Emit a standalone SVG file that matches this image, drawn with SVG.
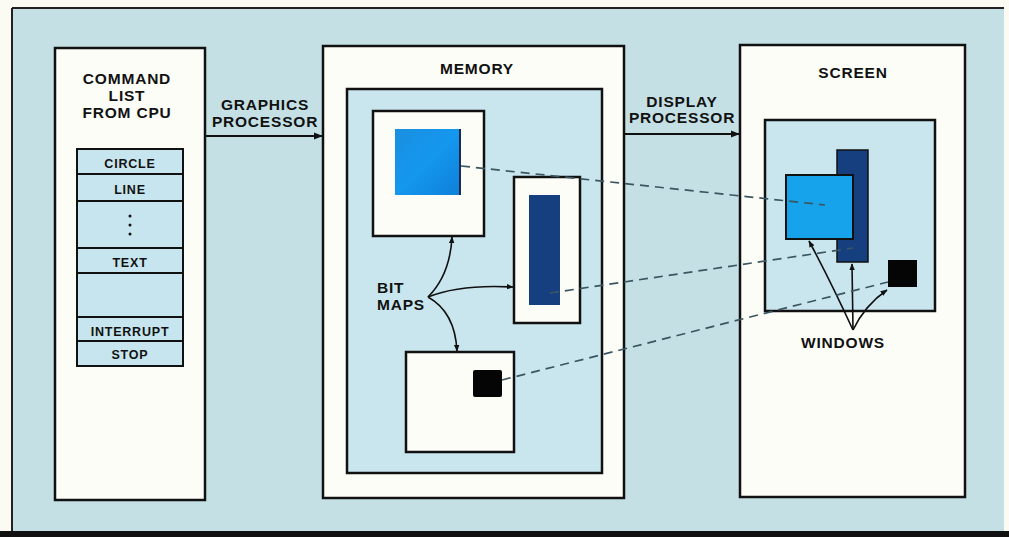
<svg xmlns="http://www.w3.org/2000/svg" width="1009" height="537" viewBox="0 0 1009 537">
<defs>
<marker id="ah" viewBox="0 0 10 10" refX="9" refY="5" markerWidth="9" markerHeight="9" markerUnits="userSpaceOnUse" orient="auto">
<path d="M0,1 L10,5 L0,9 Z" fill="#111"/>
</marker>
<marker id="ahs" viewBox="0 0 10 10" refX="9" refY="5" markerWidth="7" markerHeight="7" markerUnits="userSpaceOnUse" orient="auto">
<path d="M0,1 L10,5 L0,9 Z" fill="#111"/>
</marker>
<style>
.lbl{font-family:"Liberation Sans",Arial,sans-serif;font-weight:bold;font-size:15.5px;letter-spacing:0.8px;fill:#111;text-anchor:middle}
.tbl{font-family:"Liberation Sans",Arial,sans-serif;font-weight:bold;font-size:12.5px;letter-spacing:0.8px;fill:#111;text-anchor:middle}
.box{fill:#fdfdf8;stroke:#111;stroke-width:2.5}
.inner{fill:#c9e6ee;stroke:#111;stroke-width:2.5}
.row{fill:#c6e5ee;stroke:#111;stroke-width:2}
.dash{fill:none;stroke:#3b5660;stroke-width:1.7;stroke-dasharray:9 6}
.conn{fill:none;stroke:#111;stroke-width:2}
.thin{fill:none;stroke:#111;stroke-width:1.6}
</style>
<linearGradient id="bl" x1="0" y1="0" x2="1" y2="1">
<stop offset="0" stop-color="#1a8fe0"/>
<stop offset="0.5" stop-color="#1497ee"/>
<stop offset="1" stop-color="#0f7fd8"/>
</linearGradient>
</defs>
<rect x="0" y="0" width="1009" height="537" fill="#fbfbf4"/>
<rect x="12" y="8" width="992" height="529" fill="#c4e0e5"/>
<line x1="12" y1="8" x2="1004" y2="8" stroke="#222" stroke-width="2"/>
<line x1="12" y1="8" x2="12" y2="537" stroke="#222" stroke-width="2"/>
<rect x="0" y="531" width="1009" height="6" fill="#111"/>

<g id="command-list">
<rect class="box" x="55" y="48" width="150" height="452"/>
<text class="lbl" x="127" y="84">COMMAND</text>
<text class="lbl" x="127" y="101">LIST</text>
<text class="lbl" x="127" y="118">FROM CPU</text>
<rect class="row" x="77" y="149" width="106" height="25"/>
<rect class="row" x="77" y="174" width="106" height="27"/>
<rect class="row" x="77" y="201" width="106" height="47"/>
<rect class="row" x="77" y="248" width="106" height="25"/>
<rect class="row" x="77" y="273" width="106" height="44"/>
<rect class="row" x="77" y="317" width="106" height="24"/>
<rect class="row" x="77" y="341" width="106" height="25"/>
<text class="tbl" x="130" y="168">CIRCLE</text>
<text class="tbl" x="130" y="194">LINE</text>
<circle cx="130" cy="216" r="1.5" fill="#111"/>
<circle cx="130" cy="225" r="1.5" fill="#111"/>
<circle cx="130" cy="234" r="1.5" fill="#111"/>
<text class="tbl" x="130" y="267">TEXT</text>
<text class="tbl" x="130" y="336">INTERRUPT</text>
<text class="tbl" x="130" y="359">STOP</text>
</g>

<g id="memory">
<rect class="box" x="323" y="46" width="301" height="452"/>
<text class="lbl" x="477" y="74">MEMORY</text>
<rect class="inner" x="347" y="89" width="255" height="384"/>
<rect class="box" x="373" y="111" width="111" height="125" stroke-width="2"/>
<rect x="395" y="129" width="66" height="66" fill="url(#bl)"/>
<line x1="460" y1="129" x2="460" y2="195" stroke="#1a2a50" stroke-width="2"/>
<rect class="box" x="514" y="177" width="66" height="146" stroke-width="2"/>
<rect x="529" y="195" width="31" height="110" fill="#163f80"/>
<rect class="box" x="406" y="352" width="108" height="100" stroke-width="2"/>
<rect x="473" y="370" width="29" height="27" fill="#050505" rx="2"/>
<text class="lbl" x="377" y="293" style="text-anchor:start">BIT</text>
<text class="lbl" x="377" y="310" style="text-anchor:start">MAPS</text>
</g>

<g id="screen">
<rect class="box" x="740" y="45" width="225" height="452"/>
<text class="lbl" x="853" y="78">SCREEN</text>
<rect class="inner" x="765" y="120" width="170" height="191"/>
<rect x="837" y="150" width="31" height="112" fill="#163f80" stroke="#111" stroke-width="1.5"/>
<rect x="786" y="175" width="67" height="64" fill="#17a3ec" stroke="#111" stroke-width="2"/>
<rect x="888" y="260" width="29" height="27" fill="#050505"/>
<text class="lbl" x="843" y="348">WINDOWS</text>
</g>

<g id="connectors">
<line class="conn" x1="205" y1="136" x2="322" y2="136" marker-end="url(#ah)"/>
<text class="lbl" x="265" y="110">GRAPHICS</text>
<text class="lbl" x="265" y="127">PROCESSOR</text>
<line class="conn" x1="624" y1="134" x2="739" y2="134" marker-end="url(#ah)"/>
<text class="lbl" x="682" y="107">DISPLAY</text>
<text class="lbl" x="682" y="123">PROCESSOR</text>
<path class="thin" d="M428,297 Q450,275 452,237" marker-end="url(#ahs)"/>
<path class="thin" d="M428,297 Q460,284 513,287" marker-end="url(#ahs)"/>
<path class="thin" d="M428,297 Q455,312 457,351" marker-end="url(#ahs)"/>
<path class="thin" d="M853,330 Q830,280 809,241" marker-end="url(#ahs)"/>
<path class="thin" d="M853,330 L852,264" marker-end="url(#ahs)"/>
<path class="thin" d="M853,330 Q865,305 887,290" marker-end="url(#ahs)"/>
<line class="dash" x1="461" y1="166" x2="825" y2="205"/>
<line class="dash" x1="550" y1="293" x2="853" y2="248"/>
<line class="dash" x1="502" y1="380" x2="888" y2="282"/>
</g>
</svg>
